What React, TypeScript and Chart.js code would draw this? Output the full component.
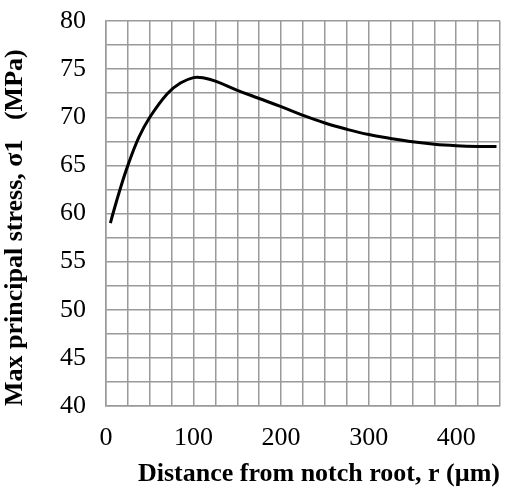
import React, { useEffect, useRef } from "react";
import { Chart, registerables } from "chart.js";

Chart.register(...registerables);

const distance = [5, 8, 16, 25, 37.5, 50, 70, 85, 100, 112, 125, 150, 175, 200, 225, 250, 275, 300, 325, 350, 375, 400, 425, 446];
const stress = [59.0, 60.0, 62.5, 65.0, 67.9, 70.0, 72.45, 73.55, 74.12, 74.08, 73.75, 72.8, 71.95, 71.1, 70.2, 69.4, 68.75, 68.2, 67.8, 67.45, 67.2, 67.05, 66.97, 66.95];
const xLabels = [0, 100, 200, 300, 400];
const yLabels = [40, 45, 50, 55, 60, 65, 70, 75, 80];

const xTitle = "Distance from notch root, r (\u00b5m)";
const yTitle = "Max principal stress, \u03c31   (MPa)";

const zeroPad = (s: any) => {
  s.paddingTop = 0;
  s.paddingBottom = 0;
  s.paddingLeft = 0;
  s.paddingRight = 0;
};

export default function App() {
  const ref = useRef<HTMLCanvasElement | null>(null);

  useEffect(() => {
    if (!ref.current) return;
    const gridColor = "#9a9a9a";
    const chart = new Chart(ref.current, {
      type: "line",
      data: {
        datasets: [
          {
            data: distance.map((x, i) => ({ x, y: stress[i] })),
            borderColor: "#000000",
            borderWidth: 3,
            pointRadius: 0,
            tension: 0.4,
            fill: false,
          },
        ],
      },
      options: {
        animation: false,
        responsive: false,
        layout: { padding: { top: 21, right: 6, left: 0, bottom: 0 } },
        plugins: { legend: { display: false }, tooltip: { enabled: false } },
        scales: {
          x: {
            type: "linear",
            min: 0,
            max: 450,
            afterFit: (s: any) => {
              s.height = 84;
              zeroPad(s);
            },
            afterBuildTicks: (s: any) => {
              const t = [];
              for (let v = 0; v <= 450; v += 25) t.push({ value: v });
              s.ticks = t;
            },
            ticks: {
              autoSkip: false,
              maxRotation: 0,
              padding: 17,
              color: "#000",
              font: { family: "Liberation Serif", size: 26 },
              callback: (v: any) => (xLabels.includes(Number(v)) ? String(v) : ""),
            },
            grid: { color: gridColor, lineWidth: 1.5, drawTicks: false },
            border: { color: gridColor, width: 1.5 },
            title: {
              display: true,
              text: xTitle,
              align: "end",
              color: "#000",
              font: { family: "Liberation Serif", size: 26, weight: "bold" },
              padding: { top: 0, bottom: 0 },
            },
          },
          y: {
            type: "linear",
            min: 40,
            max: 80,
            afterFit: (s: any) => {
              s.width = 106;
              zeroPad(s);
            },
            afterBuildTicks: (s: any) => {
              const t = [];
              for (let v = 40; v <= 80; v += 2.5) t.push({ value: v });
              s.ticks = t;
            },
            ticks: {
              autoSkip: false,
              padding: 20,
              color: "#000",
              font: { family: "Liberation Serif", size: 26 },
              callback: (v: any) => (yLabels.includes(Number(v)) ? String(v) : ""),
            },
            grid: { color: gridColor, lineWidth: 1.5, drawTicks: false },
            border: { color: gridColor, width: 1.5 },
            title: {
              display: true,
              text: yTitle,
              align: "start",
              color: "#000",
              font: { family: "Liberation Serif", size: 26, weight: "bold" },
              padding: { top: 0, bottom: 0 },
            },
          },
        },
      },
    } as any);
    return () => chart.destroy();
  }, []);

  return (
    <div style={{ position: "fixed", left: 0, top: 0, width: 506, height: 490, background: "#fff" }}>
      <canvas ref={ref} width={506} height={490} style={{ width: 506, height: 490, display: "block" }} />
    </div>
  );
}
